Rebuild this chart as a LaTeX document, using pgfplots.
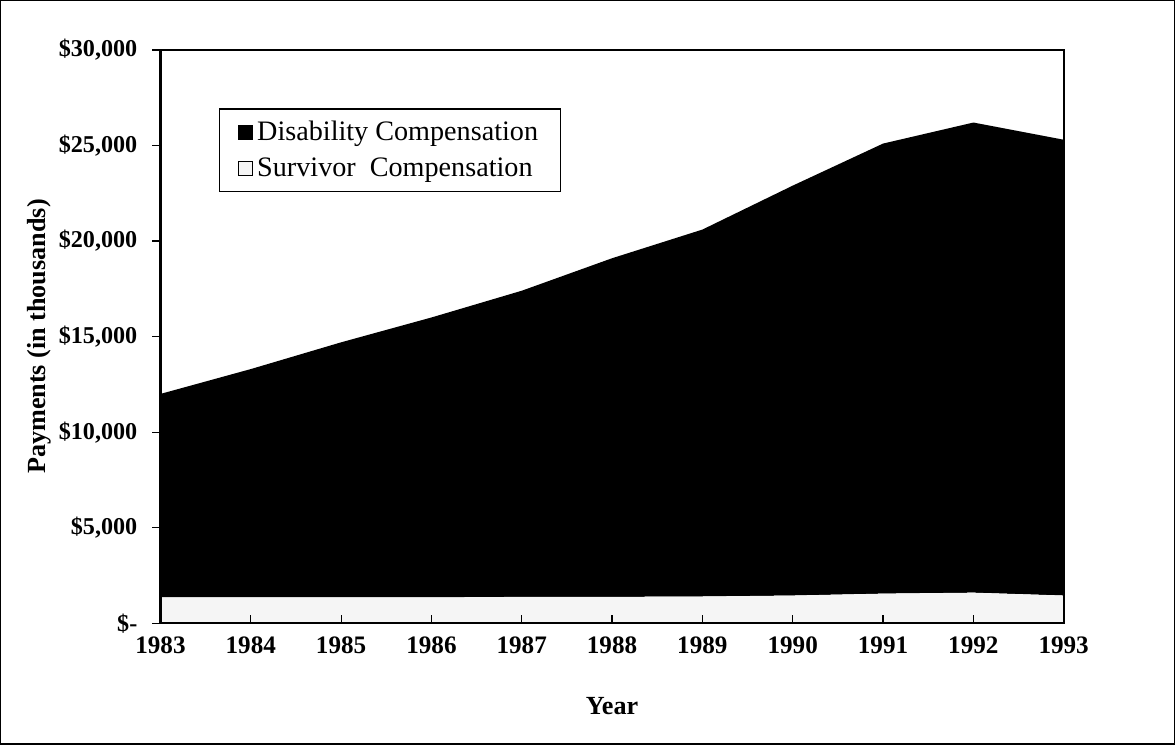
\documentclass[border=0pt]{standalone}
\usepackage{fontspec}
\setmainfont{Liberation Serif}
\usepackage{pgfplots}
\pgfplotsset{compat=1.18}
\begin{document}
\begin{tikzpicture}
\begin{axis}[
  scale only axis,
  width=449pt, height=285pt,
  xmin=1983, xmax=1993, ymin=0, ymax=30000,
  stack plots=y,
  clip=false,
  scaled y ticks=false,
  axis line style={black, line width=1.2pt},
  xtick={1983,...,1993},
  xticklabels={1983,1984,1985,1986,1987,1988,1989,1990,1991,1992,1993},
  ytick={0,5000,10000,15000,20000,25000,30000},
  yticklabels={\$-,{\$5,000},{\$10,000},{\$15,000},{\$20,000},{\$25,000},{\$30,000}},
  xtick pos=bottom, ytick pos=left,
  tick style={black, line width=0.6pt},
  major tick length=4pt,
  ytick align=outside,
  xtick align=inside,
  tick label style={font=\fontsize{12}{14}\selectfont\bfseries},
  xticklabel style={yshift=-3pt, font=\fontsize{12.5}{15}\selectfont\bfseries},
  yticklabel style={xshift=-4pt},
  xlabel={\textbf{Year}},
  ylabel={\textbf{Payments (in thousands)}},
  label style={font=\fontsize{13}{16}\selectfont},
  xlabel style={at={(axis description cs:0.5,-0.144)}, anchor=center},
  ylabel style={at={(axis description cs:-0.134,0.5)}, anchor=center},
  reverse legend,
  legend style={at={(axis description cs:0.065,0.898)}, anchor=north west,
    draw=black, line width=0.6pt, font=\fontsize{14}{17}\selectfont,
    inner xsep=9pt, inner ysep=4pt, row sep=3pt, cells={anchor=west}},
  legend image code/.code={\draw[#1, line width=0.6pt] (0pt,-3.5pt) rectangle (7pt,3.5pt);},
  axis on top,
]
\addplot[draw=none, fill=gray!8] coordinates {
(1983,1350) (1984,1350) (1985,1350) (1986,1350) (1987,1380) (1988,1380)
(1989,1400) (1990,1450) (1991,1550) (1992,1600) (1993,1450)} \closedcycle;
\addlegendentry{Survivor\ \ Compensation}
\addplot[draw=none, fill=black] coordinates {
(1983,10650) (1984,11950) (1985,13350) (1986,14650) (1987,16020) (1988,17720)
(1989,19200) (1990,21450) (1991,23550) (1992,24600) (1993,23850)} \closedcycle;
\addlegendentry{Disability Compensation}
\draw[black, line width=0.6pt] (rel axis cs:-0.177,-0.2105) rectangle (rel axis cs:1.1225,1.086);
\end{axis}
\end{tikzpicture}
\end{document}
